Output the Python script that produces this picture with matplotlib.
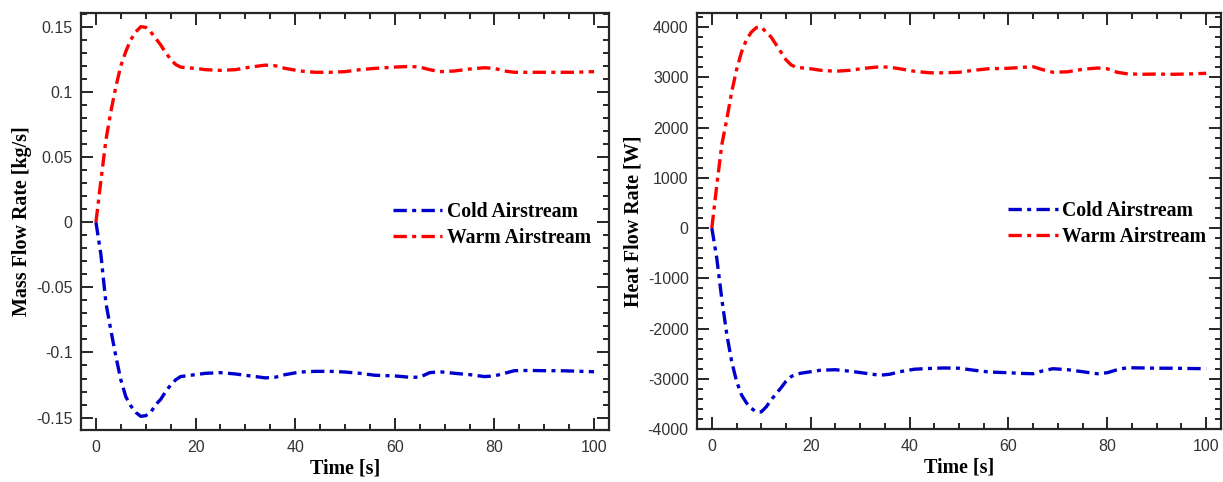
import matplotlib
matplotlib.use("Agg")
import matplotlib.pyplot as plt
from matplotlib.ticker import MultipleLocator, FuncFormatter

# ---------------- data ----------------
time_s = [0, 1, 2, 3, 4, 5, 6, 7, 8, 9, 10, 11, 12, 13, 14, 15, 16, 17, 18, 20, 22, 25,
          28, 31, 34, 36, 38, 41, 44, 47, 50, 53, 56, 60, 63, 65, 67, 69, 72, 75, 78,
          80, 82, 84, 87, 90, 93, 96, 100]

mass_warm = [0, 0.032, 0.063, 0.085, 0.104, 0.120, 0.131, 0.140, 0.146, 0.150, 0.1495,
             0.146, 0.141, 0.136, 0.130, 0.125, 0.121, 0.119, 0.1185, 0.118, 0.117, 0.1165,
             0.117, 0.119, 0.1205, 0.120, 0.118, 0.116, 0.115, 0.115, 0.1155, 0.117, 0.118,
             0.119, 0.1195, 0.119, 0.117, 0.1155, 0.116, 0.1175, 0.1185, 0.118, 0.116,
             0.115, 0.115, 0.115, 0.115, 0.115, 0.1155]

mass_cold = [0, -0.025, -0.062, -0.083, -0.103, -0.121, -0.134, -0.141, -0.146, -0.149,
             -0.1485, -0.146, -0.140, -0.136, -0.130, -0.125, -0.121, -0.1185, -0.118,
             -0.117, -0.116, -0.1155, -0.1165, -0.118, -0.1195, -0.119, -0.117, -0.115,
             -0.1145, -0.1145, -0.115, -0.116, -0.1175, -0.118, -0.119, -0.119, -0.1155,
             -0.1148, -0.116, -0.117, -0.1185, -0.118, -0.116, -0.114, -0.1138, -0.114,
             -0.114, -0.1143, -0.1148]

heat_warm = [0, 850, 1650, 2150, 2700, 3150, 3500, 3750, 3900, 3990, 4000, 3900, 3800,
             3650, 3500, 3350, 3250, 3200, 3190, 3170, 3140, 3120, 3140, 3180, 3210, 3200,
             3170, 3120, 3090, 3090, 3100, 3140, 3170, 3180, 3200, 3210, 3150, 3100, 3110,
             3160, 3185, 3170, 3100, 3070, 3060, 3065, 3060, 3065, 3080]

heat_cold = [0, -600, -1400, -2100, -2650, -3050, -3320, -3480, -3590, -3660, -3660,
             -3560, -3420, -3300, -3180, -3050, -2960, -2910, -2890, -2860, -2830, -2820,
             -2850, -2890, -2930, -2910, -2860, -2810, -2795, -2785, -2790, -2830, -2865,
             -2880, -2895, -2900, -2840, -2800, -2820, -2860, -2900, -2880, -2820, -2780,
             -2785, -2790, -2790, -2795, -2800]

series_labels = ["Cold Airstream", "Warm Airstream"]
y_labels = ["Mass Flow Rate [kg/s]", "Heat Flow Rate [W]"]
x_label = "Time [s]"

# ---------------- style ----------------
BLUE = "#0000CD"
RED = "#FF0000"
DASH = (0, (4.0, 1.6, 1.2, 1.6))
LW = 2.4
TICK_COLOR = "#262626"
LABEL_FONT = dict(family="Liberation Serif", weight="bold", size=14.4)

fig = plt.figure(figsize=(12.23, 4.82), dpi=100)
W, H = 1223, 482

def px_axes(x0, x1, y0, y1):
    return fig.add_axes([x0 / W, 1 - y1 / H, (x1 - x0) / W, (y1 - y0) / H])

ax1 = px_axes(81, 609, 13, 430)
ax2 = px_axes(697, 1221, 13, 429)

def fmt_mass(v, pos):
    s = f"{v:.2f}".rstrip("0").rstrip(".")
    if s in ("-0", "0.0"):
        s = "0"
    return s

def style(ax, ymaj, ymin, ylim, yfmt):
    ax.set_xlim(-3, 103)
    ax.set_ylim(*ylim)
    ax.xaxis.set_major_locator(MultipleLocator(20))
    ax.xaxis.set_minor_locator(MultipleLocator(5))
    ax.yaxis.set_major_locator(MultipleLocator(ymaj))
    ax.yaxis.set_minor_locator(MultipleLocator(ymin))
    ax.yaxis.set_major_formatter(FuncFormatter(yfmt))
    ax.tick_params(which="both", direction="in", top=True, right=True,
                   color=TICK_COLOR, width=1.4)
    ax.tick_params(which="major", length=8.5)
    ax.tick_params(which="minor", length=4.3)
    ax.tick_params(axis="x", which="major", pad=7, labelsize=11.5, labelcolor="#333333")
    ax.tick_params(axis="y", which="major", pad=6, labelsize=11.5, labelcolor="#333333")
    for lab in ax.get_xticklabels() + ax.get_yticklabels():
        lab.set_family("Liberation Sans")
    for sp in ax.spines.values():
        sp.set_linewidth(1.6)
        sp.set_color(TICK_COLOR)

# left panel
ax1.plot(time_s, mass_cold, color=BLUE, lw=LW, linestyle=DASH, label=series_labels[0])
ax1.plot(time_s, mass_warm, color=RED, lw=LW, linestyle=DASH, label=series_labels[1])
style(ax1, 0.05, 0.01, (-0.1595, 0.1605), fmt_mass)
ax1.set_ylabel(y_labels[0], fontdict=LABEL_FONT, labelpad=3)
ax1.set_xlabel(x_label, fontdict=LABEL_FONT, labelpad=3)

# right panel
ax2.plot(time_s, heat_cold, color=BLUE, lw=LW, linestyle=DASH, label=series_labels[0])
ax2.plot(time_s, heat_warm, color=RED, lw=LW, linestyle=DASH, label=series_labels[1])
style(ax2, 1000, 200, (-4000, 4280), lambda v, p: f"{v:.0f}")
ax2.set_ylabel(y_labels[1], fontdict=LABEL_FONT, labelpad=3)
ax2.set_xlabel(x_label, fontdict=LABEL_FONT, labelpad=3)

for ax, xa in ((ax1, 0.591), (ax2, 0.594)):
    ax.legend(loc="center left", bbox_to_anchor=(xa, 0.492), frameon=False,
              prop=dict(family="Liberation Serif", weight="bold", size=14.2),
              handlelength=2.5, handletextpad=0.25, labelspacing=0.3,
              borderpad=0, borderaxespad=0)

fig.savefig("out.png", dpi=100)
